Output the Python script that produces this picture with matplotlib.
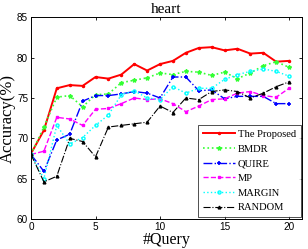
import matplotlib
matplotlib.use("Agg")
import matplotlib.pyplot as plt
import numpy as np

queries = list(range(0, 21))
proposed = [68.1, 71.0, 76.2, 76.6, 76.5, 77.6, 77.4, 77.9, 79.2, 78.4, 79.2, 79.6, 80.6, 81.2, 81.3, 80.9, 81.1, 80.5, 80.6, 79.5, 79.6]
bmdr = [68.0, 71.4, 75.1, 75.3, 73.9, 75.4, 75.5, 76.9, 77.2, 77.5, 78.1, 77.9, 78.3, 78.2, 77.8, 78.2, 77.4, 78.1, 79.0, 79.5, 78.8]
quire = [68.0, 65.9, 69.8, 70.5, 74.6, 75.3, 75.3, 75.5, 75.8, 75.6, 75.0, 77.6, 77.6, 75.9, 76.0, 74.9, 75.2, 75.2, 75.2, 74.3, 74.3]
mp = [68.0, 68.4, 72.6, 72.4, 71.6, 73.6, 73.7, 74.3, 75.0, 74.8, 74.9, 74.3, 73.3, 74.0, 74.8, 74.9, 75.6, 75.8, 75.3, 75.1, 76.2]
margin = [68.0, 65.0, 71.6, 69.3, 70.1, 71.6, 72.9, 75.4, 75.9, 75.0, 74.8, 76.4, 75.6, 76.2, 76.2, 77.3, 77.9, 78.3, 78.6, 78.3, 77.7]
random_ = [68.0, 64.6, 65.3, 70.0, 69.6, 67.7, 71.4, 71.6, 71.8, 72.0, 74.0, 73.2, 75.0, 74.8, 75.8, 76.0, 75.8, 75.0, 75.6, 76.4, 77.0]

series_names = ["The Proposed", "BMDR", "QUIRE", "MP", "MARGIN", "RANDOM"]
xticks = [0, 5, 10, 15, 20]
yticks = [60, 65, 70, 75, 80, 85]

fig = plt.figure(figsize=(3.08, 2.49), dpi=100)
ax = fig.add_axes([0.1006, 0.1205, 0.8799, 0.81])

serif = "Liberation Serif"
sans = "Liberation Sans"

styles = [
    dict(color="#ff0000", linestyle="-", marker=".", markersize=3, linewidth=1.4),
    dict(color="#33ff33", linestyle=":", marker="*", markersize=3, linewidth=1.2),
    dict(color="#0000ff", linestyle="-.", marker="+", markersize=3, linewidth=1.0, markeredgewidth=1.2),
    dict(color="#ff00ff", linestyle="--", marker="s", markersize=2, linewidth=1.0),
    dict(color="#00ffff", linestyle=":", marker="o", markersize=2.2, linewidth=1.0, markerfacecolor="none"),
    dict(color="#000000", linestyle="-.", marker="^", markersize=2, linewidth=0.8),
]
data = [proposed, bmdr, quire, mp, margin, random_]
for name, vals, st in zip(series_names, data, styles):
    ax.plot(queries, vals, label=name, **st)

ax.set_xlim(0, 21)
ax.set_ylim(60, 85)
ax.set_xticks(xticks)
ax.set_yticks(yticks)
ax.tick_params(direction="in", length=2.5, width=0.6, top=True, right=True,
               labelsize=7.2, pad=2)
for lab in ax.get_xticklabels() + ax.get_yticklabels():
    lab.set_family(sans)
for sp in ax.spines.values():
    sp.set_linewidth(0.7)

ax.set_title("heart", fontfamily=serif, fontsize=11, pad=3)
ax.set_xlabel("#Query", fontfamily=serif, fontsize=11.5, labelpad=0)
ax.set_ylabel("Accuracy(%)", fontfamily=serif, fontsize=12, labelpad=1)

leg = ax.legend(loc="lower right", bbox_to_anchor=(0.996, 0.01),
                prop={"family": serif, "size": 7.6},
                frameon=True, fancybox=False, edgecolor="black",
                borderaxespad=0, handlelength=3.0, labelspacing=0.5,
                handletextpad=0.3, borderpad=0.45)
leg.get_frame().set_linewidth(0.6)

fig.savefig("out.png", dpi=100)
